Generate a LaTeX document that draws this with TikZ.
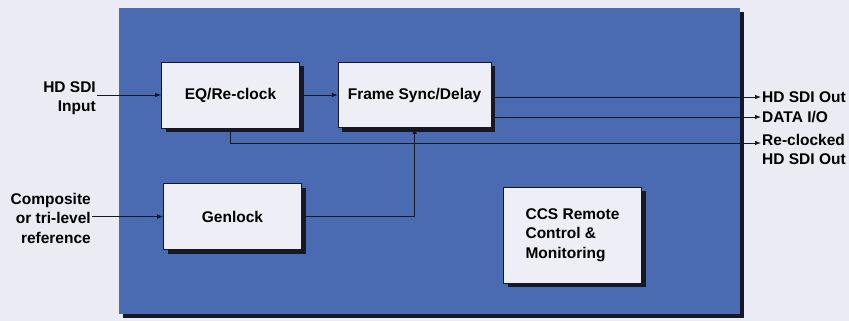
\documentclass[tikz,border=0pt]{standalone}
\usepackage{fontspec}
\setmainfont{Liberation Sans}
\usepackage{xcolor}
\usepackage{tikz}
\usetikzlibrary{arrows.meta,positioning,shadows}

\definecolor{pagebg}{RGB}{234,235,243}
\definecolor{panelblue}{RGB}{74,106,178}
\definecolor{boxfill}{RGB}{238,238,246}
\definecolor{shadowdark}{RGB}{22,24,38}

\begin{document}
\begin{tikzpicture}[
  x=1pt, y=-1pt,
  node distance=55pt and 38pt,
  >=Latex,
  every node/.style={font=\fontsize{15.5}{19.5}\selectfont\bfseries},
  blockbox/.style={rectangle, draw=shadowdark, line width=0.6pt, fill=boxfill,
    minimum height=66pt, minimum width=138pt, align=center,
    drop shadow={shadow xshift=4pt, shadow yshift=-4pt, fill=shadowdark, opacity=1}},
  sig/.style={inner sep=1pt, align=right},
  arr/.style={-{Latex[length=6pt,width=4.5pt]}, line width=0.8pt, draw=shadowdark},
]

% background and panel
\useasboundingbox (0,0) rectangle (849,321);
\fill[pagebg] (0,0) rectangle (849,321);
\fill[shadowdark] (123,12) rectangle (744,318);
\fill[panelblue] (119,8) rectangle (740,314);

% Blocks
\node[blockbox] (eq) at (230.5,95) {EQ/Re-clock};
\node[blockbox, minimum width=153pt, minimum height=65pt, right=of eq] (fsync) {Frame Sync/Delay};
\node[blockbox, below=of eq, xshift=2pt] (genlock) {Genlock};
\node[blockbox, minimum height=96pt, align=left] (ccs) at (572.5,235) {CCS Remote\\Control \&\\Monitoring};

% Inputs
\node[sig, anchor=east] (sdiin) at (97,98) {HD SDI\\Input};
\node[sig, anchor=east] (refin) at (92,218) {Composite\\or tri-level\\reference};

% Output ends
\coordinate (sdiout) at (761,97);
\coordinate (dataout) at (761,117);
\coordinate (rcout) at (761,143);
\node[sig, anchor=west, align=left] (sdioutlbl) at (sdiout) {HD SDI Out};
\node[sig, anchor=west, align=left] (datalbl) at (dataout) {DATA I/O};
\node[sig, anchor=north west, align=left, yshift=10pt] (rclbl) at (rcout) {Re-clocked\\HD SDI Out};

% Arrows
\draw[arr] (sdiin.east |- eq.west) -- (eq.west);
\draw[arr] (refin.east |- genlock.west) -- (genlock.west);
\draw[arr] (eq) -- (fsync);
\draw[arr] (genlock.east) -| (fsync.south);
\draw[arr] (fsync.east |- sdiout) -- (sdiout);
\draw[arr] (fsync.east |- dataout) -- (dataout);
\draw[arr] (eq.south) |- (rcout);

\end{tikzpicture}
\end{document}
